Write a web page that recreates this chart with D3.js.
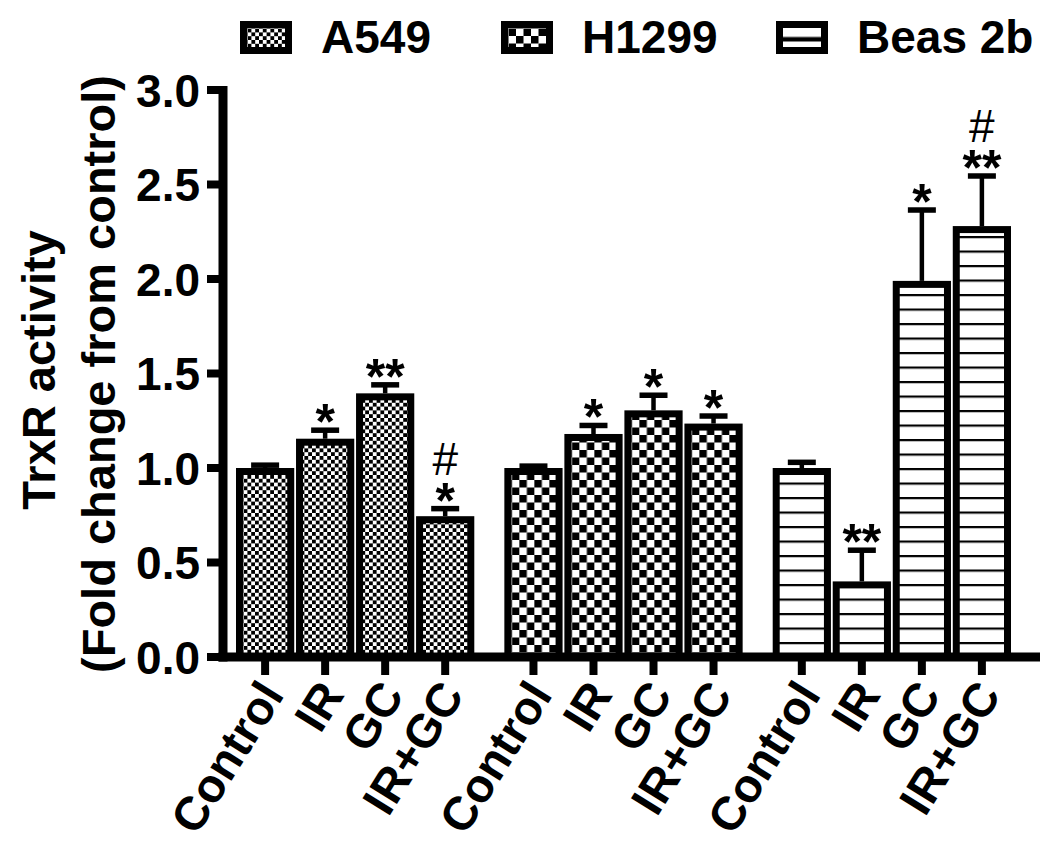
<!DOCTYPE html>
<html><head><meta charset="utf-8">
<script src="https://cdn.jsdelivr.net/npm/d3@7"></script>
<style>body{margin:0;background:#fff}svg{display:block}text{font-family:"Liberation Sans",Arial,sans-serif;font-weight:bold;fill:#000}</style>
</head><body>
<svg id="c" width="1050" height="846"></svg>
<script>
const cellLines = ["A549", "H1299", "Beas 2b"];
const treatments = ["Control", "IR", "GC", "IR+GC"];
const a549Values = [1.00, 1.155, 1.395, 0.745];
const a549Errors = [0.015, 0.045, 0.045, 0.04];
const h1299Values = [1.00, 1.18, 1.305, 1.235];
const h1299Errors = [0.01, 0.045, 0.08, 0.04];
const beasValues = [1.00, 0.40, 1.99, 2.28];
const beasErrors = [0.03, 0.165, 0.375, 0.265];
const a549Marks = ["", "*", "**", "#\n*"];
const h1299Marks = ["", "*", "*", "*"];
const beasMarks = ["", "**", "*", "#\n**"];
const yTicks = [0.0, 0.5, 1.0, 1.5, 2.0, 2.5, 3.0];

const seriesValues = [a549Values, h1299Values, beasValues];
const seriesErrors = [a549Errors, h1299Errors, beasErrors];
const seriesMarks = [a549Marks, h1299Marks, beasMarks];
const patternIds = ["pA", "pH", "pB"];

const svg = d3.select("#c");
const defs = svg.append("defs");
function checker(id, s) {
  const p = defs.append("pattern").attr("id", id).attr("patternUnits", "userSpaceOnUse").attr("width", 2*s).attr("height", 2*s);
  p.append("rect").attr("width", 2*s).attr("height", 2*s).attr("fill", "#fff");
  p.append("rect").attr("width", s).attr("height", s).attr("fill", "#000");
  p.append("rect").attr("x", s).attr("y", s).attr("width", s).attr("height", s).attr("fill", "#000");
}
checker("pA", 3.8);
checker("pH", 7.5);
const pB = defs.append("pattern").attr("id","pB").attr("patternUnits","userSpaceOnUse").attr("width",10).attr("height",14.5).attr("y",4);
pB.append("rect").attr("width",10).attr("height",14.5).attr("fill","#fff");
pB.append("rect").attr("width",10).attr("height",2.2).attr("fill","#000");
const pBL = defs.append("pattern").attr("id","pBL").attr("patternUnits","objectBoundingBox").attr("width",1).attr("height",1);
pBL.append("rect").attr("width",60).attr("height",40).attr("fill","#fff");
pBL.append("rect").attr("y",12.5).attr("width",60).attr("height",4.5).attr("fill","#000");

const y = d3.scaleLinear().domain([0, 3]).range([657, 90]);
const xGroup = d3.scaleBand().domain(cellLines).range([236, 1011]).paddingInner(0.112).paddingOuter(0);
const xInner = d3.scaleBand().domain(treatments).range([0, xGroup.bandwidth()]).paddingInner(0.03).paddingOuter(0);

const bw = 7;
cellLines.forEach((cl, gi) => {
  const g = svg.append("g").attr("transform", `translate(${xGroup(cl)},0)`);
  treatments.forEach((t, ti) => {
    const v = seriesValues[gi][ti], e = seriesErrors[gi][ti];
    const x0 = xInner(t), w = xInner.bandwidth(), cx = x0 + w / 2;
    g.append("line").attr("x1",cx).attr("x2",cx).attr("y1",y(v)).attr("y2",y(v+e)).attr("stroke","#000").attr("stroke-width",4.5);
    g.append("line").attr("x1",cx-14).attr("x2",cx+14).attr("y1",y(v+e)).attr("y2",y(v+e)).attr("stroke","#000").attr("stroke-width",5.5);
    g.append("rect").attr("x",x0+bw/2).attr("y",y(v)+bw/2).attr("width",w-bw).attr("height",y(0)-y(v)-bw/2)
      .attr("fill",`url(#${patternIds[gi]})`).attr("stroke","#000").attr("stroke-width",bw);
    const lines = seriesMarks[gi][ti].split("\n").filter(s => s.length);
    if (!lines.length) return;
    const starBase = y(v+e) + 9;
    const txt = g.append("text").attr("x",cx).attr("y", starBase - (lines.length-1)*43).attr("text-anchor","middle");
    lines.forEach((s, li) => {
      const isHash = s === "#";
      txt.append("tspan").attr("x",cx).attr("dy", li === 0 ? 0 : 43)
        .style("font-size", isHash ? "46px" : "50px")
        .style("font-weight", isHash ? "normal" : "bold")
        .text(s);
    });
  });
});

// axes
const axisX = 223;
svg.append("line").attr("x1",axisX).attr("x2",axisX).attr("y1",y(3)-4).attr("y2",y(0)+4.5).attr("stroke","#000").attr("stroke-width",9);
svg.append("line").attr("x1",axisX-4.5).attr("x2",1040).attr("y1",y(0)).attr("y2",y(0)).attr("stroke","#000").attr("stroke-width",9);
yTicks.forEach(t => {
  svg.append("line").attr("x1",axisX-16).attr("x2",axisX).attr("y1",y(t)).attr("y2",y(t)).attr("stroke","#000").attr("stroke-width",8);
  svg.append("text").attr("x",axisX-23).attr("y",y(t)+16.5).attr("text-anchor","end").style("font-size","46px").text(d3.format(".1f")(t));
});
cellLines.forEach(cl => {
  treatments.forEach(t => {
    const cx = xGroup(cl) + xInner(t) + xInner.bandwidth()/2;
    svg.append("line").attr("x1",cx).attr("x2",cx).attr("y1",y(0)).attr("y2",y(0)+18).attr("stroke","#000").attr("stroke-width",8);
    svg.append("text").attr("transform",`translate(${cx+20},${y(0)+38}) rotate(-58)`).attr("text-anchor","end")
      .style("font-size","47px").text(t);
  });
});

// y title
svg.append("text").attr("transform","translate(55,370) rotate(-90)").attr("text-anchor","middle").style("font-size","47px").text("TrxR activity");
svg.append("text").attr("transform","translate(115,374) rotate(-90)").attr("text-anchor","middle").style("font-size","47px").text("(Fold change from control)");

// legend
const legX = [240, 501, 776];
const legFill = ["pA", "pH", "pBL"];
cellLines.forEach((cl, i) => {
  const lg = svg.append("g").attr("transform",`translate(${legX[i]},21)`);
  lg.append("rect").attr("x",3.5).attr("y",3.5).attr("width",45).attr("height",26).attr("fill",`url(#${legFill[i]})`).attr("stroke","#000").attr("stroke-width",7);
  lg.append("text").attr("x",81).attr("y",32).style("font-size","46px").text(cl);
});
</script>
</body></html>
